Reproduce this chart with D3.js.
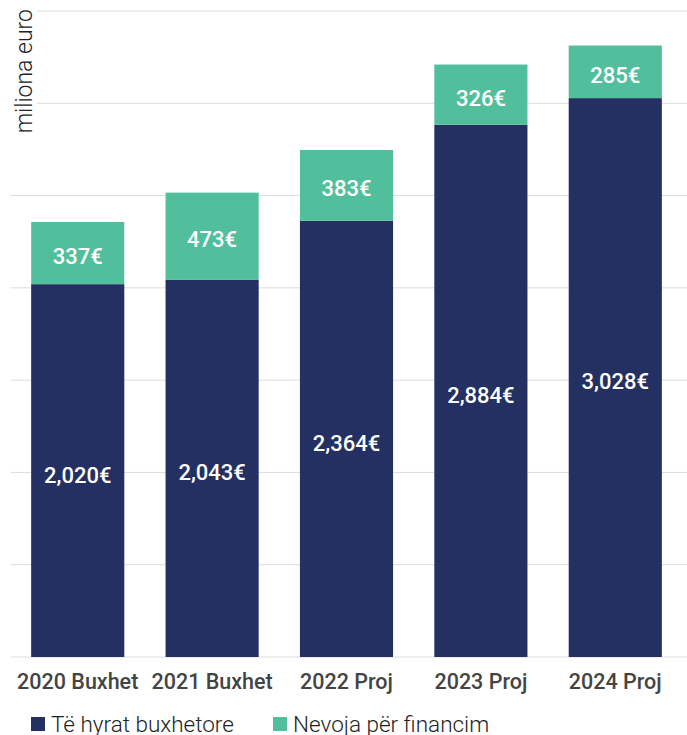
<!DOCTYPE html>
<html>
<head>
<meta charset="utf-8">
<script src="https://cdn.jsdelivr.net/npm/d3@7"></script>
<style>
  body { margin: 0; background: #fff; }
</style>
</head>
<body>
<svg id="chart"></svg>
<script>
const categories = ["2020 Buxhet", "2021 Buxhet", "2022 Proj", "2023 Proj", "2024 Proj"];
const revenue = [2020, 2043, 2364, 2884, 3028];
const financing = [337, 473, 383, 326, 285];
const seriesNames = ["Të hyrat buxhetore", "Nevoja për financim"];
const gridTicks = [0, 500, 1000, 1500, 2000, 2500, 3000, 3500];

const svg = d3.select("#chart")
  .attr("width", 687)
  .attr("height", 735);

const color = ["#233061", "#52bf9c"];

const x = d3.scaleBand()
  .domain(categories)
  .range([11, 682])
  .paddingInner(0.307)
  .paddingOuter(0.15);

const y = d3.scaleLinear()
  .domain([0, 3500])
  .range([657, 11]);

// gridlines
svg.append("g")
  .selectAll("line")
  .data(gridTicks)
  .join("line")
  .attr("x1", 11)
  .attr("x2", 687)
  .attr("y1", d => y(d))
  .attr("y2", d => y(d))
  .attr("stroke", "#dcdcdc")
  .attr("stroke-width", 1);

// y label with white backing
svg.append("rect")
  .attr("x", 11).attr("y", 0)
  .attr("width", 26).attr("height", 136)
  .attr("fill", "#fff");
svg.append("text")
  .attr("transform", "translate(32,9) rotate(-90)")
  .attr("text-anchor", "end")
  .style("font-family", "Roboto")
  .style("font-weight", 300)
  .style("font-size", "23px")
  .attr("fill", "#222")
  .text("miliona euro");

const rows = categories.map((c, i) => ({ cat: c, rev: revenue[i], fin: financing[i] }));
const fmt = d3.format(",");

// revenue bars
svg.append("g")
  .selectAll("rect")
  .data(rows)
  .join("rect")
  .attr("x", d => x(d.cat))
  .attr("width", x.bandwidth())
  .attr("y", d => y(d.rev))
  .attr("height", d => y(0) - y(d.rev))
  .attr("fill", color[0]);

// financing bars
svg.append("g")
  .selectAll("rect")
  .data(rows)
  .join("rect")
  .attr("x", d => x(d.cat))
  .attr("width", x.bandwidth())
  .attr("y", d => y(d.rev + d.fin))
  .attr("height", d => y(d.rev) - y(d.rev + d.fin))
  .attr("fill", color[1]);

const labelStyle = sel => sel
  .attr("text-anchor", "middle")
  .attr("dy", "0.36em")
  .attr("fill", "#fff")
  .style("font-family", "Roboto")
  .style("font-weight", 500)
  .style("font-size", "22px");

svg.append("g")
  .selectAll("text")
  .data(rows)
  .join("text")
  .attr("x", d => x(d.cat) + x.bandwidth() / 2)
  .attr("y", d => (y(0) + y(d.rev)) / 2 + 4)
  .call(labelStyle)
  .text(d => fmt(d.rev) + "€");

svg.append("g")
  .selectAll("text")
  .data(rows)
  .join("text")
  .attr("x", d => x(d.cat) + x.bandwidth() / 2)
  .attr("y", d => (y(d.rev) + y(d.rev + d.fin)) / 2 + 3)
  .call(labelStyle)
  .text(d => fmt(d.fin) + "€");

// category axis labels
svg.append("g")
  .selectAll("text")
  .data(categories)
  .join("text")
  .attr("x", d => x(d) + x.bandwidth() / 2)
  .attr("y", 689)
  .attr("text-anchor", "middle")
  .attr("fill", "#444")
  .style("font-family", "Roboto")
  .style("font-weight", 500)
  .style("font-size", "21.5px")
  .text(d => d);

// legend
const legendX = [31, 273];
const legend = svg.append("g")
  .selectAll("g")
  .data(seriesNames)
  .join("g")
  .attr("transform", (d, i) => `translate(${legendX[i]},717)`);
legend.append("rect")
  .attr("width", 14).attr("height", 14)
  .attr("fill", (d, i) => color[i]);
legend.append("text")
  .attr("x", 20)
  .attr("y", 15)
  .attr("fill", "#222")
  .style("font-family", "Roboto")
  .style("font-weight", 300)
  .style("font-size", "22.5px")
  .text(d => d);
</script>
</body>
</html>
